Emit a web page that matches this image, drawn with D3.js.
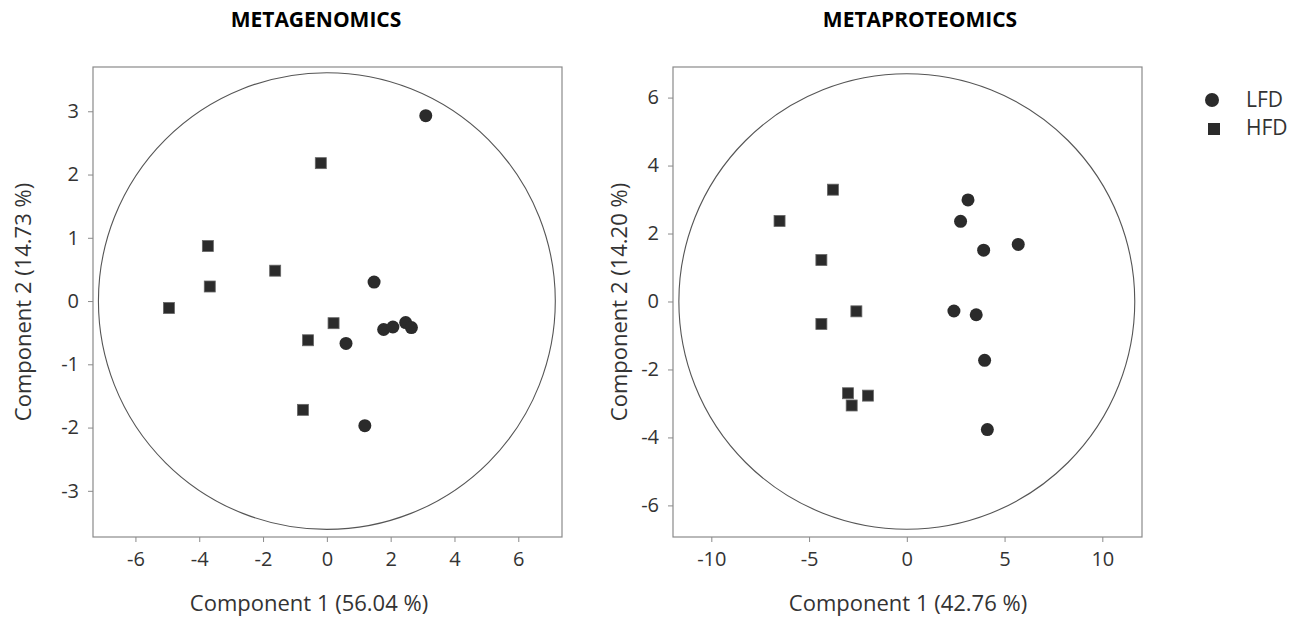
<!DOCTYPE html>
<html>
<head>
<meta charset="utf-8">
<script src="https://cdn.jsdelivr.net/npm/d3@7"></script>
<style>
  body { margin: 0; background: #fff; }
  svg text { font-family: "Open Sans", "DejaVu Sans", sans-serif; fill: #333; }
  .title { font-weight: bold; font-size: 21px; fill: #000; }
</style>
</head>
<body>
<svg id="chart" width="1298" height="617"></svg>
<script>
// PCA scores
const genoLFD = [[3.10, 2.93], [1.48, 0.30], [0.60, -0.67], [1.78, -0.45],
  [2.07, -0.41], [2.47, -0.34], [2.65, -0.42], [1.19, -1.97]];
const genoHFD = [[-0.19, 2.18], [-3.73, 0.87], [-1.62, 0.48], [-3.67, 0.23],
  [-4.95, -0.11], [0.21, -0.35], [-0.59, -0.62], [-0.75, -1.72]];
const protLFD = [[3.13, 2.99], [2.75, 2.36], [3.93, 1.51], [5.70, 1.68],
  [2.41, -0.28], [3.55, -0.39], [3.98, -1.73], [4.12, -3.77]];
const protHFD = [[-3.78, 3.29], [-6.51, 2.37], [-4.37, 1.22], [-2.58, -0.29],
  [-4.37, -0.66], [-3.01, -2.70], [-1.99, -2.77], [-2.82, -3.06]];

const genoXTicks = [-6, -4, -2, 0, 2, 4, 6];
const genoYTicks = [-3, -2, -1, 0, 1, 2, 3];
const protXTicks = [-10, -5, 0, 5, 10];
const protYTicks = [-6, -4, -2, 0, 2, 4, 6];

const groups = ["LFD", "HFD"];

const svg = d3.select("#chart");
const markColor = "#2b2b2b";

function panel(opts) {
  const { left, top, w, h, xDom, yDom, xTicks, yTicks, lfd, hfd, title, xLabel, yLabel,
    ellipse, titleX, xLabelX, yLabelX } = opts;
  const x = d3.scaleLinear().domain(xDom).range([left, left + w]);
  const y = d3.scaleLinear().domain(yDom).range([top + h, top]);
  const g = svg.append("g");

  g.append("rect")
    .attr("x", left).attr("y", top).attr("width", w).attr("height", h)
    .attr("fill", "none").attr("stroke", "#8a8a8a").attr("stroke-width", 1.2);

  const xAxis = g.append("g")
    .attr("transform", `translate(0,${top + h})`)
    .call(d3.axisBottom(x).tickValues(xTicks).tickSize(5).tickPadding(10).tickFormat(d3.format("d")));
  const yAxis = g.append("g")
    .attr("transform", `translate(${left},0)`)
    .call(d3.axisLeft(y).tickValues(yTicks).tickSize(5).tickPadding(9).tickFormat(d3.format("d")));
  [xAxis, yAxis].forEach((a) => {
    a.select(".domain").remove();
    a.selectAll("line").attr("stroke", "#8a8a8a");
    a.selectAll("text").style("font-size", "20px").attr("fill", "#333")
      .text((d) => String(d).replace("\u2212", "-"));
  });

  // unit ellipse (circle on screen)
  g.append("ellipse")
    .attr("cx", x(0)).attr("cy", y(0))
    .attr("rx", x(ellipse[0]) - x(0)).attr("ry", y(0) - y(ellipse[1]))
    .attr("fill", "none").attr("stroke", "#555").attr("stroke-width", 1.1);

  g.selectAll(".sq").data(hfd).join("rect")
    .attr("x", (d) => x(d[0]) - 5.5).attr("y", (d) => y(d[1]) - 5.5)
    .attr("width", 11).attr("height", 11)
    .attr("fill", markColor).attr("stroke", "#666").attr("stroke-width", 0.8);
  g.selectAll(".ci").data(lfd).join("circle")
    .attr("cx", (d) => x(d[0])).attr("cy", (d) => y(d[1])).attr("r", 6.5)
    .attr("fill", markColor);

  g.append("text").attr("class", "title")
    .attr("x", titleX).attr("y", 27).attr("text-anchor", "middle").text(title);
  g.append("text")
    .attr("x", xLabelX).attr("y", 611).attr("text-anchor", "middle")
    .style("font-size", "22px").text(xLabel);
  g.append("text")
    .attr("transform", `translate(${yLabelX},${top + h / 2}) rotate(-90)`)
    .attr("text-anchor", "middle").style("font-size", "22px").text(yLabel);
}

panel({
  left: 93, top: 67, w: 469, h: 470,
  xDom: [-7.33, 7.37], yDom: [-3.73, 3.70],
  xTicks: genoXTicks, yTicks: genoYTicks,
  lfd: genoLFD, hfd: genoHFD, ellipse: [7.16, 3.61],
  titleX: 316, xLabelX: 309, yLabelX: 31,
  title: "METAGENOMICS", xLabel: "Component 1 (56.04 %)", yLabel: "Component 2 (14.73 %)"
});
panel({
  left: 673, top: 67, w: 469, h: 470,
  xDom: [-11.96, 12.03], yDom: [-6.93, 6.90],
  xTicks: protXTicks, yTicks: protYTicks,
  lfd: protLFD, hfd: protHFD, ellipse: [11.66, 6.70],
  titleX: 920, xLabelX: 908, yLabelX: 627,
  title: "METAPROTEOMICS", xLabel: "Component 1 (42.76 %)", yLabel: "Component 2 (14.20 %)"
});

// legend
const leg = svg.append("g");
leg.append("circle").attr("cx", 1212).attr("cy", 100).attr("r", 7).attr("fill", markColor);
leg.append("rect").attr("x", 1208).attr("y", 123).attr("width", 12).attr("height", 12)
  .attr("fill", markColor);
leg.selectAll("text").data(groups).join("text")
  .attr("x", 1246).attr("y", (d, i) => 107 + i * 28)
  .style("font-size", "21px").text((d) => d);
</script>
</body>
</html>
